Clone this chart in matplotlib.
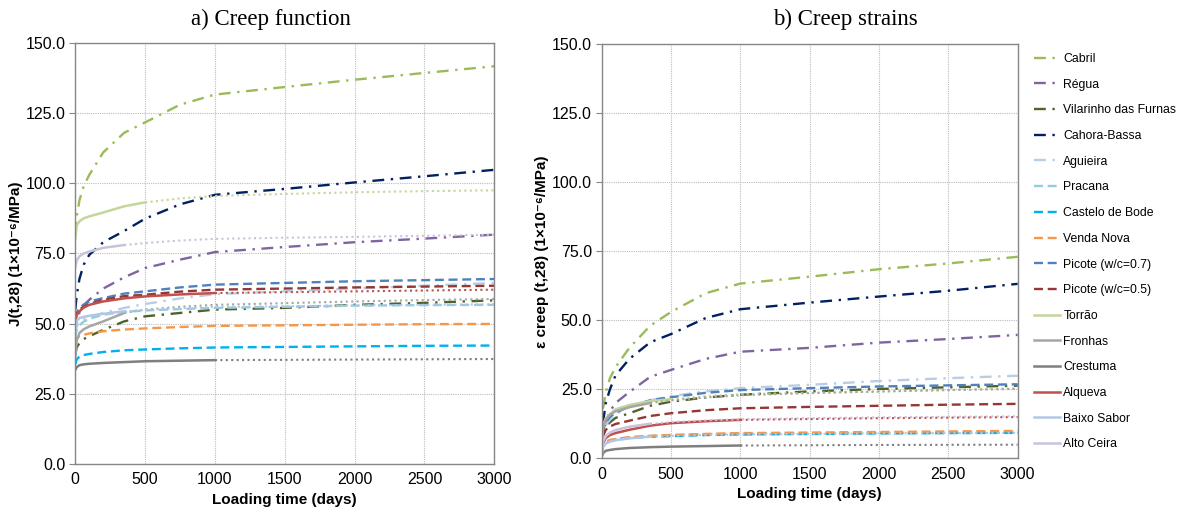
"""Creep function and creep strains of dam concretes."""
import matplotlib.pyplot as plt

plt.rcParams['font.family'] = ['Liberation Sans', 'DejaVu Sans']

days = [0, 10, 30, 60, 100, 200, 350, 500, 750, 1000, 1500, 2000, 2500, 3000]

names = [
    "Cabril", "Régua", "Vilarinho das Furnas", "Cahora-Bassa", "Aguieira",
    "Pracana", "Castelo de Bode", "Venda Nova", "Picote (w/c=0.7)",
    "Picote (w/c=0.5)", "Torrão", "Fronhas", "Crestuma", "Alqueva",
    "Baixo Sabor", "Alto Ceira",
]

colors = [
    "#9BBB59", "#8064A2", "#4F6228", "#002060", "#B9CDE5",
    "#93CDDD", "#00B0F0", "#F79646", "#4F81BD",
    "#953735", "#C3D69B", "#A6A6A6", "#7F7F7F", "#C0504D",
    "#B4C6E7", "#CCC1DA",
]

kinds = ["dashdot"] * 5 + ["dashed"] * 5 + ["solid"] * 6

# last measured day for the solid series, dotted extrapolation afterwards
measured_until = {"Torrão": 500, "Fronhas": 350, "Crestuma": 1000,
                  "Alqueva": 1000, "Baixo Sabor": 350, "Alto Ceira": 350}

# a) J(t,28) in 1e-6/MPa on the `days` grid
creep_function = {
    "Cabril": [82, 88, 94, 99, 103, 111, 118, 121.7, 128, 131.6, 134.3, 136.9, 139.3, 141.7],
    "Régua": [47, 51, 54, 56.5, 58.5, 62.5, 66.5, 69.8, 72.8, 75.5, 77.3, 79, 80.3, 81.7],
    "Vilarinho das Furnas": [39, 41.5, 43.1, 44.5, 45.5, 47.8, 50.8, 52.6, 53.8, 55, 55.6, 56.7, 57.4, 58.3],
    "Cahora-Bassa": [55, 60, 66, 71, 74.5, 79, 83, 87.4, 92.5, 95.9, 98, 100.3, 102.5, 104.8],
    "Aguieira": [46, 49, 50.5, 51.5, 52.3, 53.8, 55.6, 57, 59, 60.5, 61.5, 62.5, 63.5, 64.5],
    "Pracana": [45, 48, 49.5, 50.7, 51.7, 53.2, 54.2, 54.7, 55.2, 55.6, 56, 56.4, 56.6, 56.7],
    "Castelo de Bode": [35.5, 37.3, 38.3, 38.8, 39.2, 39.9, 40.5, 40.8, 41.2, 41.5, 41.7, 41.9, 42.1, 42.2],
    "Venda Nova": [43, 44.8, 45.5, 46, 46.5, 47.3, 47.9, 48.3, 48.8, 49.2, 49.4, 49.6, 49.8, 49.9],
    "Picote (w/c=0.7)": [52, 54, 55.5, 56.8, 57.9, 59.1, 60.7, 61.5, 62.9, 63.9, 64.5, 65.1, 65.5, 65.9],
    "Picote (w/c=0.5)": [51, 53.5, 55, 56, 57, 58.5, 59.8, 60.3, 61.4, 62.1, 62.5, 62.9, 63.2, 63.5],
    "Torrão": [80, 85, 86.5, 87.5, 88.2, 89.6, 91.8, 93.2, 94.6, 95.5, 96.2, 96.8, 97.2, 97.5],
    "Fronhas": [38, 44, 46.7, 48, 49, 50.8, 53.8, 55, 56, 56.7, 57.3, 57.9, 58.4, 58.8],
    "Crestuma": [33.5, 34.5, 35.2, 35.5, 35.7, 36, 36.3, 36.6, 36.8, 37, 37.1, 37.2, 37.3, 37.4],
    "Alqueva": [51, 53, 54.4, 55.7, 56.7, 57.9, 59, 59.7, 60.4, 60.9, 61.2, 61.5, 61.8, 62.1],
    "Baixo Sabor": [49, 51, 52, 52.4, 52.8, 53.5, 54.4, 54.9, 55.5, 55.9, 56.2, 56.5, 56.7, 56.9],
    "Alto Ceira": [70, 72.5, 74, 75, 75.7, 77, 78, 78.7, 79.6, 80.2, 80.6, 80.9, 81.3, 81.7],
}

# b) creep strain (t,28) in 1e-6/MPa on the `days` grid
creep_strain = {
    "Cabril": [8, 18, 24, 29, 33, 40, 48, 53, 59.8, 63.3, 65.8, 68.5, 70.6, 73],
    "Régua": [2, 8, 13, 17, 20, 24, 29.5, 32, 36, 38.6, 40, 41.9, 43.2, 44.7],
    "Vilarinho das Furnas": [3, 8, 11.5, 13, 14.6, 16.3, 19, 20.5, 22, 23, 24.2, 25.1, 25.7, 26.3],
    "Cahora-Bassa": [3, 13, 20, 25, 30, 36, 42, 45, 50.8, 54, 56.4, 58.6, 60.7, 63.2],
    "Aguieira": [2, 8, 12, 14, 16, 18.5, 21, 22.5, 24.2, 25.4, 26.6, 28, 29, 29.9],
    "Pracana": [2, 4.5, 5.5, 6.2, 6.8, 7.6, 8.1, 8.4, 8.7, 8.9, 9, 9.1, 9.2, 9.3],
    "Castelo de Bode": [1.5, 4.5, 5.5, 6.2, 6.7, 7.3, 7.8, 8.0, 8.4, 8.6, 8.8, 9.0, 9.1, 9.2],
    "Venda Nova": [2, 5, 6, 6.6, 7, 7.6, 8.1, 8.4, 8.8, 9.1, 9.3, 9.5, 9.7, 9.9],
    "Picote (w/c=0.7)": [4, 10, 13, 15, 16.5, 18.7, 21, 22.1, 23.7, 24.7, 25.4, 26, 26.4, 26.8],
    "Picote (w/c=0.5)": [3, 8, 10.3, 11.5, 12.4, 13.6, 15.3, 16.3, 17.4, 18.1, 18.6, 19, 19.4, 19.7],
    "Torrão": [5, 12, 14.5, 16, 17.7, 19.3, 20.7, 21.4, 22.5, 23.2, 23.7, 24.1, 24.7, 25.4],
    "Fronhas": [4, 11, 14, 15.8, 17, 18.5, 20, 21, 22, 22.8, 23.6, 24.2, 24.7, 25.1],
    "Crestuma": [0.5, 1.8, 2.7, 3.0, 3.3, 3.7, 4.0, 4.2, 4.4, 4.6, 4.7, 4.8, 4.85, 4.9],
    "Alqueva": [1, 5.5, 7.3, 8.4, 9.1, 10.3, 11.8, 12.7, 13.4, 13.9, 14.2, 14.5, 14.7, 14.9],
    "Baixo Sabor": [1, 4, 5.3, 6.0, 6.5, 7.2, 7.8, 8.1, 8.4, 8.6, 8.8, 9.0, 9.1, 9.2],
    "Alto Ceira": [1, 6, 8, 9.3, 10.2, 11.4, 12.5, 13.1, 13.7, 14.1, 14.5, 14.8, 15.0, 15.2],
}

dashes = {"dashdot": (0, (5, 2.8, 1, 2.8)), "dashed": (0, (3.8, 2)), "solid": "-"}

fig = plt.figure(figsize=(11.82, 5.16), dpi=100)
ax1 = fig.add_axes([0.0637, 0.1008, 0.3545, 0.816])
ax2 = fig.add_axes([0.509, 0.112, 0.352, 0.802])


def draw(ax, data):
    handles = []
    for name, col, kind in zip(names, colors, kinds):
        vals = data[name]
        end = measured_until.get(name)
        if end is None:
            h, = ax.plot(days, vals, color=col, ls=dashes[kind], lw=1.7)
        else:
            k = days.index(end) + 1
            h, = ax.plot(days[:k], vals[:k], color=col, ls="-", lw=1.8)
            ax.plot(days[k - 1:], vals[k - 1:], color=col, ls=(0, (1, 1.6)), lw=1.5)
        handles.append(h)
    ax.set_xlim(0, 3000)
    ax.set_ylim(0, 150)
    ax.set_xticks(range(0, 3001, 500))
    ax.set_yticks(range(0, 151, 25))
    ax.set_yticklabels([f"{v:.1f}" for v in range(0, 151, 25)])
    ax.grid(True, color="#BDBDBD", ls=(0, (1, 1)), lw=0.8)
    ax.set_axisbelow(True)
    for s in ax.spines.values():
        s.set_color("#868686")
        s.set_linewidth(1)
    ax.tick_params(axis="both", labelsize=11.5, color="#868686", direction="out",
                   length=4, pad=3)
    ax.tick_params(axis="x", length=0, pad=6)
    ax.set_xlabel("Loading time (days)", fontsize=11, fontweight="bold", labelpad=4)
    return handles


draw(ax1, creep_function)
handles = draw(ax2, creep_strain)

ax1.set_ylabel("J(t,28) (1×10⁻⁶/MPa)", fontsize=11, fontweight="bold", labelpad=2)
ax2.set_ylabel("ε creep (t,28) (1×10⁻⁶/MPa)", fontsize=11, fontweight="bold", labelpad=2)

fig.text(271 / 1182, 1 - 25 / 516, "a) Creep function", family="Liberation Serif",
         fontsize=16.5, ha="center", va="baseline")
fig.text(845 / 1182, 1 - 25 / 516, "b) Creep strains", family="Liberation Serif",
         fontsize=16.5, ha="center", va="baseline")

fig.legend(handles, names, loc="upper left", bbox_to_anchor=(1034 / 1182, 1 - 53 / 516),
           frameon=False, fontsize=8.8, handlelength=2.1, handletextpad=0.3,
           labelspacing=1.12, borderpad=0, borderaxespad=0)

plt.savefig("out.png", dpi=100, facecolor="white")
plt.close()
